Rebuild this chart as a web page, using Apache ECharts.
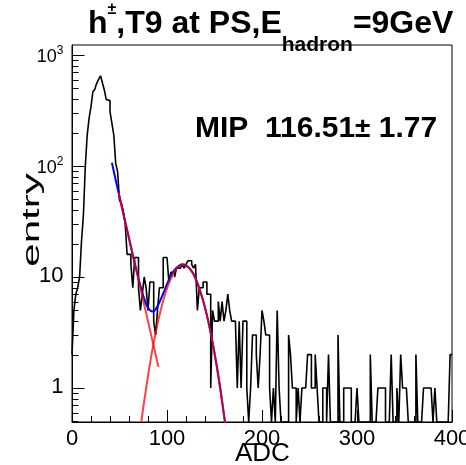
<!DOCTYPE html>
<html>
<head>
<meta charset="utf-8">
<script src="https://cdn.jsdelivr.net/npm/echarts@6/dist/echarts.min.js"></script>
<style>
  html, body { margin: 0; padding: 0; background: #fff; }
  #chart { width: 466px; height: 465px; }
</style>
</head>
<body>
<div id="chart"></div>
<script>
// histogram: 200 bins of 2 ADC from 0 to 400
const binWidth = 2;
const counts = [
  2, 5, 7, 8, 10, 21, 36, 99, 190, 270,
  342, 467, 492, 556, 603, 650, 563, 484, 398, 388,
  309, 243, 190, 106, 89, 49, 46, 39, 30, 16,
  16, 13, 8, 15, 15, 8, 5, 7, 10, 8,
  5, 9, 9, 4, 3, 5, 8, 8, 15, 15,
  15, 9, 11, 11, 10, 12, 12, 12, 13, 12,
  13, 14, 14, 13, 12, 13, 5, 8, 8, 9,
  9, 7, 7, 1, 5, 4, 4, 6, 4, 6,
  4, 5, 7, 5, 4, 4, 4, 1, 4, 1,
  4, 4, 1, 0, 1, 3, 3, 2, 1, 2,
  5, 4, 3, 3, 1, 0, 1, 0, 5, 1,
  0, 0, 0, 0, 3, 2, 1, 1, 0, 1,
  0, 1, 1, 1, 2, 2, 1, 1, 2, 1,
  0, 0, 1, 1, 0, 2, 0, 0, 0, 0,
  3, 0, 0, 1, 1, 1, 1, 0, 0, 0,
  1, 0, 0, 0, 0, 0, 0, 2, 0, 0,
  0, 1, 1, 1, 1, 0, 0, 0, 2, 0,
  0, 1, 0, 2, 1, 1, 1, 0, 0, 0,
  0, 2, 0, 0, 0, 1, 1, 1, 1, 1,
  0, 1, 0, 0, 0, 0, 0, 0, 0, 2
];

// fit curves
const totalFitAdc = [42, 46, 50, 55, 60, 65, 70, 75, 80, 85, 88, 92, 96, 100, 104, 108, 112, 116, 120, 124, 128, 132, 136, 140, 144, 148, 152, 156, 160, 162];
const totalFitVal = [107, 74.6, 52.9, 34.4, 22.3, 14.5, 9.75, 6.77, 5.28, 4.88, 5.1, 5.9, 7.1, 8.6, 10.2, 11.6, 12.5, 13.0, 12.7, 11.9, 10.6, 8.85, 7.0, 5.3, 3.8, 2.57, 1.65, 1.0, 0.57, 0.43];
const expoFitAdc = [49, 91];
const expoFitVal = [57.7, 1.55];
const gausFitAdc = [73, 76, 80, 84, 88, 92, 96, 100, 104, 108, 112, 116, 120, 124, 128, 132, 136, 140, 144, 148, 152, 156, 160, 162];
const gausFitVal = [0.5, 0.76, 1.28, 2.06, 3.12, 4.49, 6.11, 7.89, 9.66, 11.2, 12.3, 12.8, 12.6, 11.8, 10.5, 8.8, 6.98, 5.27, 3.77, 2.55, 1.64, 1.0, 0.57, 0.43];

// axes
const yMin = 0.494;
const yMax = 1230;
const yMajorTicks = [1, 10, 100, 1000];
const yTickLabels = ['1', '10', '10^2', '10^3'];
const yMinorTicks = [0.5, 0.6, 0.7, 0.8, 0.9,
  2, 3, 4, 5, 6, 7, 8, 9,
  20, 30, 40, 50, 60, 70, 80, 90,
  200, 300, 400, 500, 600, 700, 800, 900];

const FONT = '"Liberation Sans", Arial, Helvetica, sans-serif';

const histData = counts.map((c, i) => [i * binWidth, c > 0 ? c : yMin]);
histData.push([counts.length * binWidth, counts[counts.length - 1] || yMin]);

const chart = echarts.init(document.getElementById('chart'));

function yTickRender(params, api) {
  const p = api.coord([0, api.value(1)]);
  const major = api.value(2) >= 0;
  const x = Math.round(p[0]) + 0.5;
  const y = Math.round(p[1]) + 0.5;
  const children = [{
    type: 'line',
    shape: { x1: x, y1: y, x2: x + (major ? 12 : 6), y2: y },
    style: { stroke: '#000', lineWidth: 1 }
  }];
  if (major) {
    const lab = yTickLabels[api.value(2)];
    let text;
    if (lab.indexOf('^') >= 0) {
      const parts = lab.split('^');
      text = '{b|' + parts[0] + '}{s|' + parts[1] + '}';
    } else {
      text = '{p|' + lab + '}';
    }
    children.push({
      type: 'text',
      x: x - 9,
      y: y - 2,
      style: {
        text: text,
        align: 'right',
        verticalAlign: 'middle',
        fill: '#000',
        rich: {
          p: { fontSize: 22, fontFamily: FONT, fill: '#000', lineHeight: 24 },
          b: { fontSize: 18, fontFamily: FONT, fill: '#000', lineHeight: 18, padding: [4, 0, 0, 0], verticalAlign: 'top' },
          s: { fontSize: 12, fontFamily: FONT, fill: '#000', lineHeight: 12, verticalAlign: 'top' }
        }
      }
    });
  }
  return { type: 'group', children: children };
}

const option = {
  animation: false,
  backgroundColor: '#fff',
  title: [
    {
      left: 88,
      top: 0,
      padding: 0,
      text: '{m|h}{p|±}{m|,T9 at PS,E}{s|hadron}{m|=9GeV}',
      textStyle: {
        rich: {
          m: { fontSize: 32, fontWeight: 'bold', fontFamily: FONT, color: '#000', lineHeight: 36, padding: [8, 0, 0, 0], verticalAlign: 'top' },
          p: { fontSize: 16, fontFamily: FONT, color: '#000', lineHeight: 16, padding: [2, 0, 0, 0], verticalAlign: 'top' },
          s: { fontSize: 21, fontWeight: 'bold', fontFamily: FONT, color: '#000', lineHeight: 21, padding: [35, 0, 0, 0], verticalAlign: 'top' }
        }
      }
    },
    {
      left: 195,
      top: 114,
      padding: 0,
      text: '{b|MIP  116.51}{n|±}{b| 1.77}',
      textStyle: {
        rich: {
          b: { fontSize: 30, fontWeight: 'bold', fontFamily: FONT, color: '#000', lineHeight: 30 },
          n: { fontSize: 28, fontFamily: FONT, color: '#000', lineHeight: 30 }
        }
      }
    },
    {
      // x axis title
      left: 235,
      top: 441,
      padding: 0,
      text: 'ADC',
      textStyle: { fontSize: 26, fontWeight: 'normal', fontFamily: FONT, color: '#000', lineHeight: 26 }
    }
  ],
  graphic: [
    {
      type: 'text',
      x: 32,
      y: 220,
      rotation: Math.PI / 2,
      scaleX: 1.75,
      style: {
        text: 'entry',
        font: '24px ' + FONT,
        fill: '#000',
        align: 'center',
        verticalAlign: 'middle',
        textAlign: 'center',
        textVerticalAlign: 'middle'
      }
    }
  ],
  grid: {
    left: 72,
    right: 14,
    top: 45,
    bottom: 43,
    outerBoundsMode: 'none',
    containLabel: false,
    show: true,
    borderColor: '#000',
    borderWidth: 1,
    backgroundColor: 'transparent'
  },
  xAxis: {
    type: 'value',
    min: 0,
    max: 400,
    interval: 100,
    axisLine: { show: true, lineStyle: { color: '#000', width: 1 } },
    axisTick: { show: true, inside: true, length: 12, lineStyle: { color: '#000', width: 1 } },
    minorTick: { show: true, splitNumber: 5, length: 6, lineStyle: { color: '#000', width: 1 } },
    axisLabel: { fontSize: 22, color: '#000', margin: 6, fontFamily: FONT, showMaxLabel: true, showMinLabel: true },
    splitLine: { show: false }
  },
  yAxis: {
    type: 'log',
    logBase: 10,
    min: yMin,
    max: yMax,
    axisLine: { show: true, lineStyle: { color: '#000', width: 1 } },
    axisTick: { show: false },
    axisLabel: { show: false },
    splitLine: { show: false }
  },
  series: [
    {
      name: 'hist',
      type: 'line',
      step: 'end',
      data: histData,
      symbol: 'none',
      clip: true,
      lineStyle: { color: '#000', width: 1.6 },
      z: 2
    },
    {
      name: 'total fit',
      type: 'line',
      data: totalFitAdc.map((x, i) => [x, totalFitVal[i]]),
      symbol: 'none',
      smooth: 0.3,
      clip: true,
      lineStyle: { color: '#0000ff', width: 2 },
      z: 3
    },
    {
      name: 'expo',
      type: 'line',
      data: expoFitAdc.map((x, i) => [x, expoFitVal[i]]),
      symbol: 'none',
      clip: true,
      lineStyle: { color: '#ff0000', width: 2, opacity: 0.75 },
      z: 4
    },
    {
      name: 'gaus',
      type: 'line',
      data: gausFitAdc.map((x, i) => [x, gausFitVal[i]]),
      symbol: 'none',
      smooth: 0.3,
      clip: true,
      lineStyle: { color: '#ff0000', width: 2, opacity: 0.75 },
      z: 4
    },
    {
      name: 'yticks',
      type: 'custom',
      coordinateSystem: 'cartesian2d',
      silent: true,
      clip: false,
      z: 6,
      data: yMajorTicks.map((v, i) => [0, v, i]).concat(yMinorTicks.map(v => [0, v, -1])),
      renderItem: yTickRender
    }
  ]
};

chart.setOption(option);
</script>
</body>
</html>
